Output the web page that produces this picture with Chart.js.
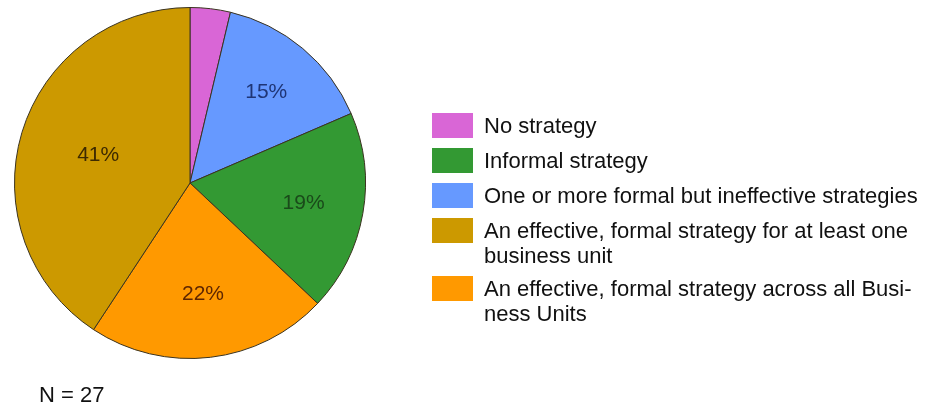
<!DOCTYPE html>
<html>
<head>
<meta charset="utf-8">
<script src="https://cdn.jsdelivr.net/npm/chart.js@4/dist/chart.umd.min.js"></script>
<style>
  html, body { margin: 0; padding: 0; background: #ffffff; }
  #wrap { position: relative; width: 927px; height: 410px; }
  canvas { display: block; }
</style>
</head>
<body>
<div id="wrap"><canvas id="pie" width="927" height="410"></canvas></div>
<script>
// Survey responses (N = 27), in clockwise drawing order from 12 o'clock
const categories = [
  'No strategy',
  'One or more formal but ineffective strategies',
  'Informal strategy',
  'An effective, formal strategy across all Business Units',
  'An effective, formal strategy for at least one business unit'
];
const counts = [1, 4, 5, 6, 11];

// Legend rows: which slice each row refers to, and how its text wraps
const legendOrder = [0, 2, 1, 4, 3];
const legendLines = [
  ['No strategy'],
  ['One or more formal but ineffective strategies'],
  ['Informal strategy'],
  ['An effective, formal strategy across all Busi-', 'ness Units'],
  ['An effective, formal strategy for at least one', 'business unit']
];

const sliceColors = ['#d966d6', '#6699ff', '#339933', '#ff9900', '#cc9900'];
const labelColors = ['#4a1a4a', '#1f3575', '#1a4a1a', '#5e2600', '#3d2a00'];
const sampleNote = 'N = 27';

const FONT = '"Liberation Sans", Arial, sans-serif';

// Percent labels inside each slice (small slices are left unlabelled);
// wider slices get their label pulled a little further toward the centre
const sliceLabels = {
  id: 'sliceLabels',
  afterDatasetsDraw(chart) {
    const ctx = chart.ctx;
    const meta = chart.getDatasetMeta(0);
    const values = chart.data.datasets[0].data;
    const total = values.reduce((a, b) => a + b, 0);
    ctx.save();
    ctx.font = '21px ' + FONT;
    ctx.textAlign = 'center';
    ctx.textBaseline = 'middle';
    meta.data.forEach((arc, i) => {
      const share = values[i] / total;
      const pct = Math.round(share * 100);
      if (pct < 5) return;
      const p = arc.getProps(['x', 'y', 'startAngle', 'endAngle', 'outerRadius'], true);
      const mid = (p.startAngle + p.endAngle) / 2;
      const r = p.outerRadius * (0.75 - 0.5 * share);
      ctx.fillStyle = labelColors[i];
      ctx.fillText(pct + '%', p.x + Math.cos(mid) * r, p.y + Math.sin(mid) * r);
    });
    ctx.restore();
  }
};

// Boxed legend to the right of the pie, plus the sample-size note
const sideLegend = {
  id: 'sideLegend',
  afterDraw(chart) {
    const ctx = chart.ctx;
    const colors = chart.data.datasets[0].backgroundColor;
    const x0 = 432, boxW = 41, boxH = 25, textX = 484;
    const lineH = 25, rowStep = 35, extraLine = 23;
    let y = 113;
    ctx.save();
    ctx.font = '22px ' + FONT;
    ctx.textBaseline = 'middle';
    ctx.textAlign = 'left';
    legendOrder.forEach((idx) => {
      ctx.fillStyle = colors[idx];
      ctx.fillRect(x0, y, boxW, boxH);
      ctx.fillStyle = '#111111';
      const lines = legendLines[idx];
      lines.forEach((t, k) => ctx.fillText(t, textX, y + boxH / 2 + 1 + k * lineH));
      y += rowStep + (lines.length - 1) * extraLine;
    });
    ctx.fillText(sampleNote, 39, 396);
    ctx.restore();
  }
};

new Chart(document.getElementById('pie'), {
  type: 'pie',
  data: {
    labels: categories,
    datasets: [{
      data: counts,
      backgroundColor: sliceColors,
      borderColor: '#3a3320',
      borderWidth: 1
    }]
  },
  options: {
    responsive: false,
    animation: false,
    layout: { padding: { left: 14, top: 7, right: 561, bottom: 51 } },
    plugins: {
      legend: { display: false },
      tooltip: { enabled: false }
    }
  },
  plugins: [sliceLabels, sideLegend]
});
</script>
</body>
</html>
